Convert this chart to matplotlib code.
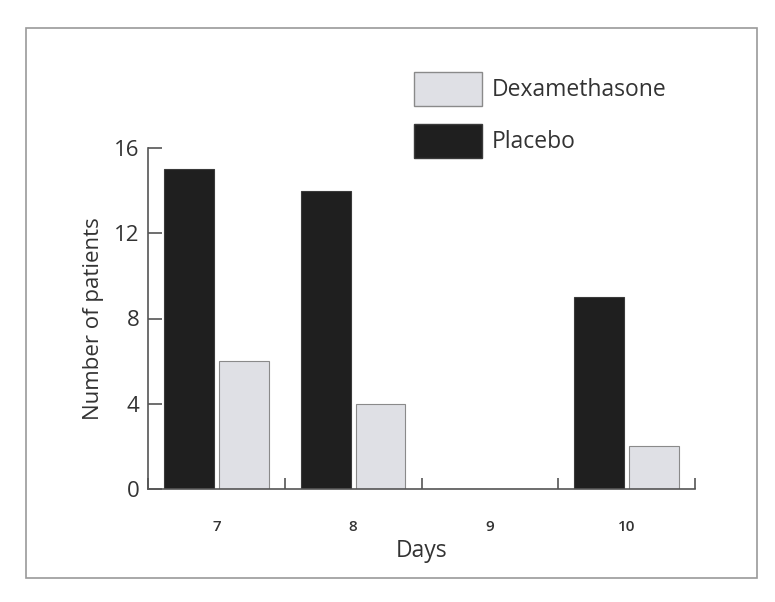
import matplotlib.pyplot as plt
from matplotlib.patches import Patch, Rectangle
import numpy as np

plt.rcParams["font.family"] = ["Open Sans", "DejaVu Sans"]

days = ["7", "8", "9", "10"]
placebo = [15, 14, 0, 9]
dexamethasone = [6, 4, 0, 2]

TEXT = "#333333"
DARK = "#1f1f1f"
LIGHT = "#dfe0e5"

fig = plt.figure(figsize=(7.75, 6.02), dpi=100)
ax = fig.add_axes([148 / 775, 1 - 489 / 602, (695 - 148) / 775, (489 - 148) / 602])

x = np.arange(len(days)) + 0.5
width = 0.365
ax.bar(x - 0.2, placebo, width, color=DARK, edgecolor="#3a3a3a", linewidth=0.8)
ax.bar(x + 0.2, dexamethasone, width, color=LIGHT, edgecolor="#8a8a8a", linewidth=0.8)

ax.set_xlim(0, len(days))
ax.set_ylim(0, 16)

for side in ["top", "right"]:
    ax.spines[side].set_visible(False)
for side in ["left", "bottom"]:
    ax.spines[side].set_color("#555555")
    ax.spines[side].set_linewidth(1.2)

ax.set_yticks([0, 4, 8, 12, 16])
ax.tick_params(axis="y", direction="in", length=10, width=1.2, color="#555555",
               labelsize=16, labelcolor=TEXT, pad=6)

# day labels sit in the middle of each group, group edges get the tick marks
ax.set_xticks(x)
ax.set_xticklabels(days, fontweight="semibold")
ax.tick_params(axis="x", which="major", length=0, labelsize=11, labelcolor=TEXT, pad=22)
ax.set_xticks(np.arange(len(days) + 1), minor=True)
ax.tick_params(axis="x", which="minor", direction="in", length=8, width=1.2, color="#555555")

ax.set_xlabel("Days", fontsize=16.5, color=TEXT, labelpad=4)
ax.set_ylabel("Number of patients", fontsize=16, color=TEXT, labelpad=7)

handles = [
    Patch(facecolor=LIGHT, edgecolor="#8a8a8a", label="Dexamethasone"),
    Patch(facecolor=DARK, edgecolor="#3a3a3a", label="Placebo"),
]
fig.legend(handles=handles, loc="upper left", bbox_to_anchor=(393 / 775, 1 - 51 / 602),
           frameon=False, fontsize=16.5, handlelength=3.0, handleheight=1.93,
           labelspacing=0.78, handletextpad=0.42, labelcolor=TEXT)

fig.patches.append(Rectangle((26 / 775, 1 - 578 / 602), 731 / 775, 550 / 602,
                             transform=fig.transFigure, fill=False,
                             edgecolor="#9a9a9a", linewidth=1.2))

fig.savefig("out.png", dpi=100)
